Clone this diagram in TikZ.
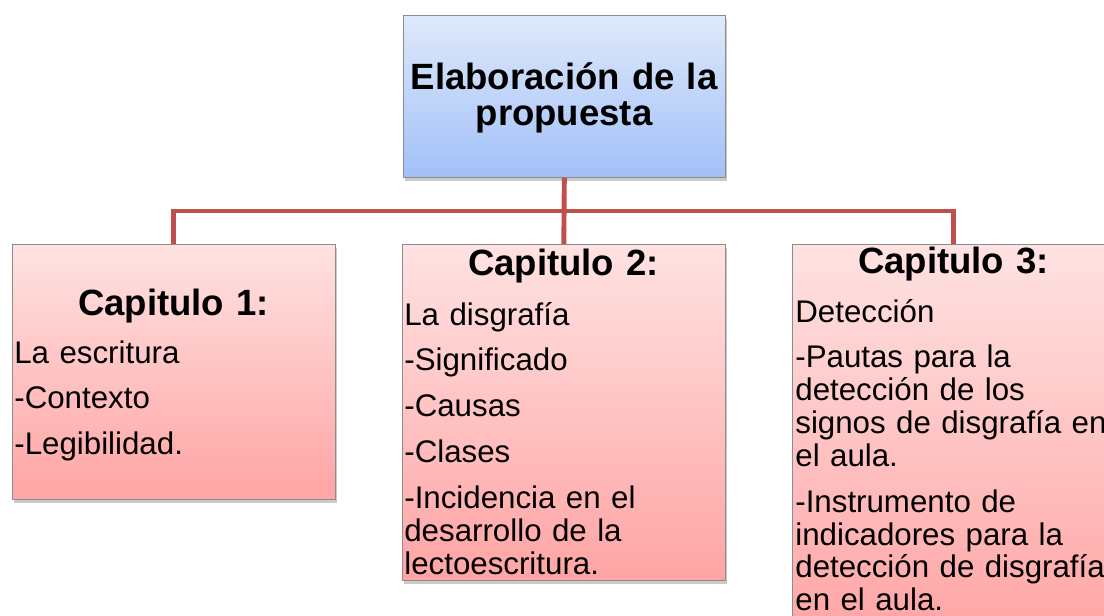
\documentclass[tikz,border=0pt]{standalone}
\usepackage{fontspec}
\setmainfont{Liberation Sans}
\usepackage{tikz}
\usetikzlibrary{shadows}
\definecolor{linkred}{RGB}{192,80,77}
\definecolor{bluetop}{RGB}{222,233,252}
\definecolor{bluebot}{RGB}{162,192,247}
\definecolor{pinktop}{RGB}{255,226,226}
\definecolor{pinkbot}{RGB}{255,164,164}
\tikzset{boxshadow/.style={drop shadow={shadow xshift=1pt,shadow yshift=-2pt,opacity=.35,fill=black!60}}}
\tikzset{topic/.style={rectangle,draw=black!45,top color=bluetop,bottom color=bluebot,anchor=north west,minimum width=6.44cm,minimum height=3.24cm,boxshadow}}
\tikzset{chapter/.style={rectangle,draw=black!45,top color=pinktop,bottom color=pinkbot,anchor=north west,minimum width=6.46cm,boxshadow}}
\tikzset{link/.style={draw=linkred,line width=2.8pt}}
\tikzset{heading/.style={anchor=base,inner sep=0pt,text width=6.4cm,align=center,font=\fontsize{20.8}{20.4}\selectfont\bfseries}}
\tikzset{body/.style={anchor=base west,inner sep=0pt,text width=7cm,align=left,font=\fontsize{17.8}{18.7}\selectfont}}

\begin{document}
\begin{tikzpicture}[x=0.02cm,y=-0.02cm]
  \clip (0,0) rectangle (1104,615);

  % boxes
  \node [topic] (T) at (403,15) {};
  \node [chapter,minimum height=5.10cm] (C1) at (12,244) {};
  \node [chapter,minimum height=6.72cm] (C2) at (402,244) {};
  \node [chapter,minimum height=7.92cm] (C3) at (792,244) {};

  % connectors
  \coordinate (bus) at (564,211);
  \draw [link] (T.south) -- (C2.north);
  \draw [link] (C1.north) |- (bus) -| (C3.north);

  % texts
  \node [heading] (Tt) at (564,90) {Elaboración de la\\propuesta};

  \node [heading] (H1) at (173.5,315) {Capitulo 1:};
  \node [body] (B1) at (14,363)
  {
    La escritura\\[7.4pt]
    -Contexto\\[7.4pt]
    -Legibilidad.
  };

  \node [heading] (H2) at (563.5,275) {Capitulo 2:};
  \node [body] (B2) at (404,325)
  {
    La disgrafía\\[7.4pt]
    -Significado\\[7.4pt]
    -Causas\\[7.4pt]
    -Clases\\[7.4pt]
    -Incidencia en el\\desarrollo de la\\lectoescritura.
  };

  \node [heading] (H3) at (953.5,273) {Capitulo 3:};
  \node [body] (B3) at (795,322)
  {
    Detección\\[7.4pt]
    -Pautas para la\\detección de los\\signos de disgrafía en\\el aula.\\[7.4pt]
    -Instrumento de\\indicadores para la\\detección de disgrafía\\en el aula.
  };
\end{tikzpicture}
\end{document}
